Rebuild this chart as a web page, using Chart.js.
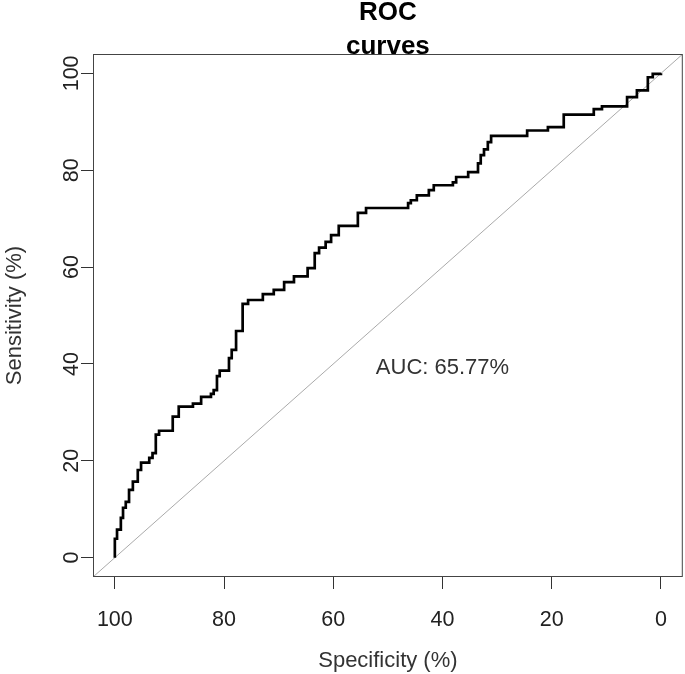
<!DOCTYPE html>
<html>
<head>
<meta charset="utf-8">
<script src="https://cdn.jsdelivr.net/npm/chart.js@4.4.1/dist/chart.umd.min.js"></script>
<style>
html,body{margin:0;padding:0;background:#fff;}
#wrap{width:685px;height:674px;}
canvas{display:block;}
</style>
</head>
<body>
<div id="wrap"><canvas id="c" width="685" height="674"></canvas></div>
<script>
// ROC curve corner points (specificity %, sensitivity %)
const specificity = [100, 100, 99.6, 98.9, 98.5, 98.0, 97.4, 96.7, 95.8, 95.2, 93.7, 93.1, 92.5, 91.9, 89.4, 88.3, 85.7, 84.2, 82.4, 81.9, 81.3, 80.8, 79.1, 78.6, 77.8, 76.6, 75.6, 72.9, 70.9, 69.0, 67.2, 64.7, 63.4, 62.6, 61.4, 60.4, 59.0, 55.5, 54.0, 46.3, 45.8, 44.7, 42.5, 41.6, 38.1, 37.5, 35.3, 33.5, 33.0, 32.4, 31.7, 31.1, 24.5, 20.7, 17.8, 12.3, 10.8, 6.2, 4.4, 2.4, 1.5, 0];
const sensitivity = [0, 3.9, 5.8, 8.2, 10.3, 11.5, 14.0, 15.7, 18.1, 19.6, 20.6, 21.6, 25.4, 26.2, 29.1, 31.2, 31.8, 33.2, 33.8, 34.6, 37.5, 38.6, 41.2, 42.9, 46.8, 52.4, 53.2, 54.4, 55.3, 56.9, 58.1, 59.8, 62.9, 64.0, 65.2, 66.6, 68.5, 71.2, 72.2, 73.2, 73.8, 74.8, 75.9, 76.9, 77.5, 78.6, 79.6, 81.4, 83.1, 84.3, 85.8, 87.1, 88.2, 88.9, 91.5, 92.6, 93.2, 95.1, 96.5, 99.2, 99.9, 100];
// chance diagonal (spec + sens = 100) across the plotting region
const diagSpec = [104, -4];
const diagSens = [-4, 104];
const xTicks = [100, 80, 60, 40, 20, 0];
const yTicks = [0, 20, 40, 60, 80, 100];
const axisMin = -4, axisMax = 104;
const titleLines = ['ROC', 'curves'];
const xTitle = 'Specificity (%)';
const yTitle = 'Sensitivity (%)';
const aucLabel = 'AUC: 65.77%';
const aucSpec = 40, aucSens = 39.2;

const FONT = '"Liberation Sans", Arial, sans-serif';

const rocPoints = specificity.map((s, i) => ({x: s, y: sensitivity[i]}));
const diagPoints = diagSpec.map((s, i) => ({x: s, y: diagSens[i]}));

const decor = {
  id: 'decor',
  afterDraw(chart) {
    const ctx = chart.ctx;
    const a = chart.chartArea;
    const xs = chart.scales.x, ys = chart.scales.y;
    ctx.save();
    // box
    ctx.strokeStyle = '#444';
    ctx.lineWidth = 1;
    ctx.strokeRect(a.left + 0.5, a.top + 0.5, a.right - a.left - 1, a.bottom - a.top - 1);
    // AUC text
    ctx.fillStyle = '#333';
    ctx.font = '22px ' + FONT;
    ctx.textAlign = 'center';
    ctx.textBaseline = 'middle';
    ctx.fillText(aucLabel, xs.getPixelForValue(aucSpec), ys.getPixelForValue(aucSens));
    // x title
    ctx.textBaseline = 'alphabetic';
    const cx = (a.left + a.right) / 2;
    ctx.fillText(xTitle, cx, 667);
    // y title
    ctx.save();
    ctx.translate(21, (a.top + a.bottom) / 2);
    ctx.rotate(-Math.PI / 2);
    ctx.fillText(yTitle, 0, 0);
    ctx.restore();
    // main title
    ctx.fillStyle = '#000';
    ctx.font = 'bold 26px ' + FONT;
    ctx.fillText(titleLines[0], cx, 20);
    ctx.fillText(titleLines[1], cx, 54);
    ctx.restore();
  }
};

new Chart(document.getElementById('c'), {
  type: 'scatter',
  data: {
    datasets: [
      {
        data: diagPoints,
        showLine: true,
        borderColor: '#aaaaaa',
        borderWidth: 1,
        pointRadius: 0,
        order: 2
      },
      {
        data: rocPoints,
        showLine: true,
        stepped: 'before',
        borderColor: '#000',
        borderWidth: 2.7,
        pointRadius: 0,
        order: 1
      }
    ]
  },
  options: {
    responsive: false,
    devicePixelRatio: 1,
    animation: false,
    layout: {padding: {left: 0, right: 2, top: 54, bottom: 0}},
    plugins: {legend: {display: false}, tooltip: {enabled: false}, title: {display: false}},
    scales: {
      x: {
        type: 'linear',
        reverse: true,
        min: axisMin,
        max: axisMax,
        afterBuildTicks: (s) => { s.ticks = xTicks.map(v => ({value: v})); },
        afterFit: (s) => { s.height = 97; },
        grid: {display: true, drawOnChartArea: false, tickLength: 12, color: '#333', lineWidth: 1},
        border: {display: false},
        ticks: {color: '#222', font: {size: 21.5, family: FONT}, padding: 18, maxRotation: 0, autoSkip: false}
      },
      y: {
        type: 'linear',
        min: axisMin,
        max: axisMax,
        afterBuildTicks: (s) => { s.ticks = yTicks.map(v => ({value: v})); },
        afterFit: (s) => { s.width = 93; },
        grid: {display: true, drawOnChartArea: false, tickLength: 12, color: '#333', lineWidth: 1},
        border: {display: false},
        ticks: {color: '#222', font: {size: 21.5, family: FONT}, padding: -9, minRotation: 90, maxRotation: 90, crossAlign: 'center', autoSkip: false}
      }
    }
  },
  plugins: [decor]
});
</script>
</body>
</html>
